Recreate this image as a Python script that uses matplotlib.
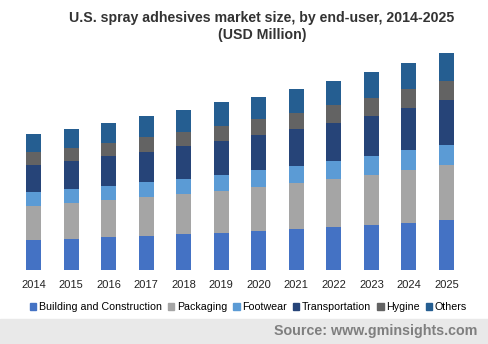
import matplotlib.pyplot as plt
from matplotlib.patches import Rectangle
import numpy as np

plt.rcParams['font.family'] = ['Liberation Sans', 'DejaVu Sans']

years = ["2014", "2015", "2016", "2017", "2018", "2019",
         "2020", "2021", "2022", "2023", "2024", "2025"]

# market size per end-user segment, USD million
building = [30, 31, 33, 34, 36, 37, 39, 41, 43, 45, 47, 50]
packaging = [34, 36, 37, 39, 40, 42, 44, 46, 48, 50, 53, 55]
footwear = [14, 14, 14, 15, 15, 16, 17, 17, 18, 19, 20, 20]
transportation = [27, 28, 30, 30, 33, 34, 35, 37, 38, 40, 42, 45]
hygine = [13, 13, 13, 15, 14, 15, 16, 16, 18, 18, 19, 19]
others = [18, 19, 20, 21, 22, 24, 22, 24, 24, 26, 26, 28]

segments = [
    ("Building and Construction", building, "#4472c4"),
    ("Packaging", packaging, "#a5a5a5"),
    ("Footwear", footwear, "#5b9bd5"),
    ("Transportation", transportation, "#264478"),
    ("Hygine", hygine, "#636363"),
    ("Others", others, "#255e91"),
]

fig = plt.figure(figsize=(4.89, 3.44), dpi=100)
ax = fig.add_axes([14.7 / 489, (344 - 270) / 344, 450.6 / 489, 225 / 344])

x = np.arange(len(years))
bottom = np.zeros(len(years))
for name, vals, color in segments:
    ax.bar(x, vals, width=0.4, bottom=bottom, color=color, label=name)
    bottom += np.array(vals)

ax.set_xlim(-0.5, len(years) - 0.5)
ax.set_ylim(0, 225)
ax.set_xticks(x)
ax.set_xticklabels(years, fontsize=8, color="#222222")
ax.tick_params(axis="x", length=0, pad=7)
ax.set_yticks([])
for s in ax.spines.values():
    s.set_visible(False)

fig.text(0.536, (344 - 18) / 344, "U.S. spray adhesives market size, by end-user, 2014-2025",
         ha="center", va="center", fontsize=10.2, fontweight="bold", color="#333333")
fig.text(0.536, (344 - 35) / 344, "(USD Million)",
         ha="center", va="center", fontsize=10.2, fontweight="bold", color="#333333")

handles = [Rectangle((0, 0), 1, 1, color=c) for _, _, c in segments]
fig.legend(handles, [n for n, _, _ in segments], loc="center",
           bbox_to_anchor=(248.5 / 489, (344 - 307) / 344), ncol=6, frameon=False,
           fontsize=7.7, handlelength=0.6, handleheight=0.6, handletextpad=0.25,
           columnspacing=0.55, borderpad=0)

# source strip along the bottom
fig.patches.append(Rectangle((0, 0), 1, (344 - 319) / 344, transform=fig.transFigure,
                             color="#e9e9e9", zorder=0))
fig.text(477 / 489, (344 - 331) / 344, "Source: www.gminsights.com", ha="right",
         va="center", fontsize=10.3, fontweight="bold", color="#7f7f7f")

fig.savefig("out.png", dpi=100)
